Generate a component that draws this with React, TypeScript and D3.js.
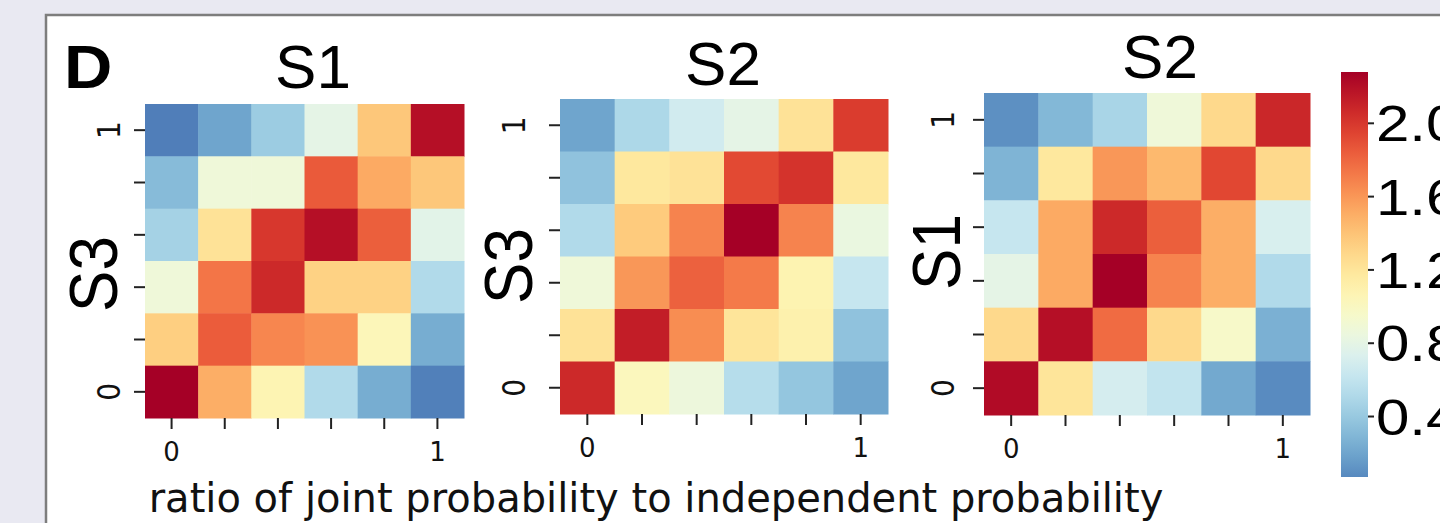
import React from 'react';
import * as d3 from 'd3';

// 6 bins per variable; rows listed top (value 1) to bottom (value 0)
const bins = [0, 1, 2, 3, 4, 5];
const xTickLabels = ['0', '', '', '', '', '1'];
const yTickLabels = ['1', '', '', '', '', '0'];

const s1VsS3 = [
  [0.02, 0.2, 0.42, 0.8, 1.38, 2.2],
  [0.32, 0.88, 0.88, 1.85, 1.52, 1.38],
  [0.46, 1.22, 2.0, 2.2, 1.83, 0.78],
  [0.88, 1.74, 2.07, 1.32, 1.32, 0.52],
  [1.34, 1.84, 1.67, 1.62, 1.04, 0.24],
  [2.28, 1.5, 1.07, 0.52, 0.24, 0.03],
];

const s2VsS3 = [
  [0.2, 0.5, 0.68, 0.8, 1.22, 1.98],
  [0.36, 1.18, 1.22, 1.92, 2.02, 1.18],
  [0.52, 1.36, 1.68, 2.28, 1.68, 0.84],
  [0.88, 1.6, 1.82, 1.72, 1.08, 0.62],
  [1.22, 2.13, 1.64, 1.2, 1.1, 0.36],
  [2.07, 1.02, 0.86, 0.54, 0.38, 0.2],
];

const s2VsS1 = [
  [0.1, 0.3, 0.48, 0.88, 1.28, 2.08],
  [0.28, 1.18, 1.6, 1.45, 1.93, 1.28],
  [0.62, 1.52, 2.07, 1.83, 1.5, 0.72],
  [0.8, 1.52, 2.28, 1.68, 1.5, 0.52],
  [1.28, 2.2, 1.78, 1.28, 0.96, 0.26],
  [2.22, 1.2, 0.7, 0.6, 0.22, 0.08],
];

const colorbarTicks = [0.4, 0.8, 1.2, 1.6, 2.0];
const VMIN = 0.07;
const VMAX = 2.28;
const CENTER = 1;

// seaborn-style centred colormap
const span = Math.max(VMAX - CENTER, CENTER - VMIN);
const color = d3
  .scaleSequential((t: number) => d3.interpolateRdYlBu(1 - t))
  .domain([CENTER - span, CENTER + span]);

const panels = [
  { title: 'S1', ylabel: 'S3', values: s1VsS3, x0: 145, x1: 464, y0: 104, y1: 418, titleX: 313, titleY: 88, ylabX: 117, ylabY: 274, ytickX: 120 },
  { title: 'S2', ylabel: 'S3', values: s2VsS3, x0: 560, x1: 888, y0: 99, y1: 414, titleX: 723, titleY: 85, ylabX: 532, ylabY: 266, ytickX: 525 },
  { title: 'S2', ylabel: 'S1', values: s2VsS1, x0: 984, x1: 1310, y0: 93, y1: 415, titleX: 1160, titleY: 78, ylabX: 960, ylabY: 252, ytickX: 954 },
];

const arial = 'Liberation Sans, Arial, sans-serif';
const dejavu = 'DejaVu Sans, sans-serif';

const Heatmap = ({ p }: { p: typeof panels[number] }) => {
  const x = d3.scaleBand<number>().domain(bins).range([p.x0, p.x1]);
  const y = d3.scaleBand<number>().domain(bins).range([p.y0, p.y1]);
  return (
    <g>
      {p.values.map((row, r) =>
        row.map((v, c) => (
          <rect key={`${r}-${c}`} x={x(c)} y={y(r)} width={x.bandwidth() + 0.5} height={y.bandwidth() + 0.5} fill={color(v)} />
        ))
      )}
      {bins.map((b, i) => {
        const cx = x(b)! + x.bandwidth() / 2;
        return (
          <g key={'xt' + i}>
            <line x1={cx} x2={cx} y1={p.y1} y2={p.y1 + 11} stroke="#222" strokeWidth={2} />
            {xTickLabels[i] && (
              <text x={cx} y={p.y1 + 43} textAnchor="middle" fontFamily={dejavu} fontSize={26} fill="#111">
                {xTickLabels[i]}
              </text>
            )}
          </g>
        );
      })}
      {bins.map((b, i) => {
        const cy = y(b)! + y.bandwidth() / 2;
        return (
          <g key={'yt' + i}>
            <line x1={p.x0 - 11} x2={p.x0} y1={cy} y2={cy} stroke="#222" strokeWidth={2} />
            {yTickLabels[i] && (
              <text transform={`translate(${p.ytickX},${cy}) scale(1.12,1) rotate(-90)`} textAnchor="middle" fontFamily={dejavu} fontSize={28} fill="#111">
                {yTickLabels[i]}
              </text>
            )}
          </g>
        );
      })}
      <text x={p.titleX} y={p.titleY} textAnchor="middle" fontFamily={arial} fontSize={62} fill="#000">
        {p.title}
      </text>
      <text transform={`translate(${p.ylabX},${p.ylabY}) scale(1.1,1) rotate(-90)`} textAnchor="middle" fontFamily={arial} fontSize={62} fill="#000">
        {p.ylabel}
      </text>
    </g>
  );
};

const Colorbar = () => {
  const cbX = 1341;
  const cbW = 27;
  const cy = d3.scaleLinear().domain([VMIN, VMAX]).range([477, 72]);
  const stops = d3.range(0, 1.0001, 0.05);
  return (
    <g>
      <defs>
        <linearGradient id="cbgrad" x1="0" y1="1" x2="0" y2="0">
          {stops.map((s) => (
            <stop key={s} offset={s} stopColor={color(VMIN + s * (VMAX - VMIN))} />
          ))}
        </linearGradient>
      </defs>
      <rect x={cbX} y={cy(VMAX)} width={cbW} height={cy(VMIN) - cy(VMAX)} fill="url(#cbgrad)" />
      {colorbarTicks.map((t) => (
        <g key={t}>
          <line x1={cbX + cbW} x2={cbX + cbW + 6} y1={cy(t)} y2={cy(t)} stroke="#222" strokeWidth={2} />
          <text transform={`translate(${cbX + cbW + 8},${cy(t) + 18}) scale(1.2,1)`} fontFamily={arial} fontSize={50} fill="#000">
            {d3.format('.1f')(t)}
          </text>
        </g>
      ))}
    </g>
  );
};

export default function App() {
  return (
    <div style={{ position: 'fixed', left: 0, top: 0 }}>
      <svg width={1440} height={523} style={{ display: 'block' }}>
        <rect x={0} y={0} width={1440} height={523} fill="#e9e9f2" />
        <rect x={46} y={15} width={1440} height={560} fill="#fff" stroke="#7d7d7d" strokeWidth={2.5} />
        <text transform="translate(64,88) scale(1.08,1)" fontFamily={arial} fontWeight="bold" fontSize={62} fill="#000">
          D
        </text>
        {panels.map((p, i) => (
          <Heatmap key={i} p={p} />
        ))}
        <Colorbar />
        <text x={656} y={512} textAnchor="middle" fontFamily={dejavu} fontSize={40} fill="#111">
          ratio of joint probability to independent probability
        </text>
      </svg>
    </div>
  );
}
